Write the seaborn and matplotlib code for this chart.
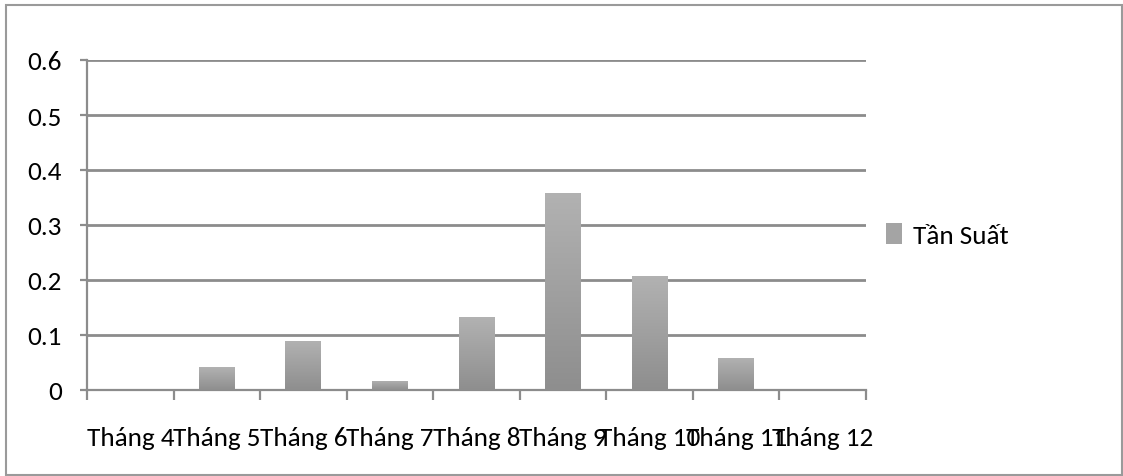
import numpy as np
import pandas as pd
import matplotlib
matplotlib.use("Agg")
import matplotlib.pyplot as plt
from matplotlib.patches import Rectangle
import seaborn as sns

# Monthly frequency values
months = ["Tháng 4", "Tháng 5", "Tháng 6", "Tháng 7", "Tháng 8",
          "Tháng 9", "Tháng 10", "Tháng 11", "Tháng 12"]
tan_suat = [0.0, 0.041, 0.090, 0.017, 0.132, 0.359, 0.208, 0.059, 0.0]
series_name = "Tần Suất"
y_ticks = [0, 0.1, 0.2, 0.3, 0.4, 0.5, 0.6]
y_tick_labels = ["0", "0.1", "0.2", "0.3", "0.4", "0.5", "0.6"]

sns.set_style("white")
plt.rcParams["font.family"] = ["Carlito", "DejaVu Sans"]

df = pd.DataFrame({"month": months, "value": tan_suat})

W, H = 1123, 477
FS = 19.5
TEXT = "#000000"
fig = plt.figure(figsize=(W / 100, H / 100), dpi=100)
ax = fig.add_axes([87 / W, 1 - 391 / H, (866 - 87) / W, (391 - 61) / H])

sns.barplot(data=df, x="month", y="value", ax=ax, width=0.415,
            color="#a0a0a0", saturation=1, label=series_name, zorder=3)

# vertical gray gradient inside each bar (light on top, darker at bottom)
grad = np.linspace(0, 1, 256).reshape(-1, 1)
cmap = matplotlib.colors.LinearSegmentedColormap.from_list(
    "bargrad", ["#8e8e8e", "#b2b2b2"])
for patch in list(ax.patches):
    x0, y0 = patch.get_x(), patch.get_y()
    w, h = patch.get_width(), patch.get_height()
    patch.set_facecolor("none")
    patch.set_edgecolor("none")
    if h <= 0:
        continue
    im = ax.imshow(grad, extent=(x0, x0 + w, y0, y0 + h), origin="lower",
                   cmap=cmap, aspect="auto", zorder=3, interpolation="bilinear")
    im.set_clip_path(patch)

ax.set_xlim(-0.5, len(months) - 0.5)
ax.set_ylim(0, 0.6)
ax.set_aspect("auto")

# horizontal gridlines
ax.set_yticks(y_ticks)
ax.set_yticklabels(y_tick_labels)
ax.yaxis.grid(True, color="#8c8c8c", linewidth=2.0, zorder=0)
ax.xaxis.grid(False)
ax.set_axisbelow(True)

for side in ["top", "right"]:
    ax.spines[side].set_visible(False)
for side in ["left", "bottom"]:
    ax.spines[side].set_color("#8c8c8c")
    ax.spines[side].set_linewidth(1.6)

ax.tick_params(axis="y", length=5, width=1.6, color="#8c8c8c",
               pad=13, labelsize=FS, labelcolor=TEXT, left=True)

# category labels centred, tick marks on category boundaries
ax.set_xticks(range(len(months)))
ax.set_xticklabels(months)
ax.set_xticks(np.arange(-0.5, len(months)), minor=True)
ax.tick_params(axis="x", which="major", length=0, pad=26, labelsize=FS,
               labelcolor=TEXT)
ax.tick_params(axis="x", which="minor", length=7.5, width=1.6,
               color="#8c8c8c", bottom=True)
ax.set_xlabel("")
ax.set_ylabel("")

leg = ax.legend(loc="center left", bbox_to_anchor=(886 / W, 1 - 236 / H),
                bbox_transform=fig.transFigure, frameon=False,
                fontsize=FS, handlelength=0.6, handleheight=0.8,
                handletextpad=0.4, borderpad=0, borderaxespad=0,
                labelcolor=TEXT)
for hnd in leg.legend_handles:
    hnd.set_facecolor("#a4a4a4")
    hnd.set_edgecolor("none")

# outer chart border
fig.patches.append(Rectangle((6 / W, 1 / H), (W - 7) / W, (H - 7) / H,
                             transform=fig.transFigure, fill=False,
                             edgecolor="#9a9a9a", linewidth=1.5))

fig.savefig("out.png", dpi=100)
